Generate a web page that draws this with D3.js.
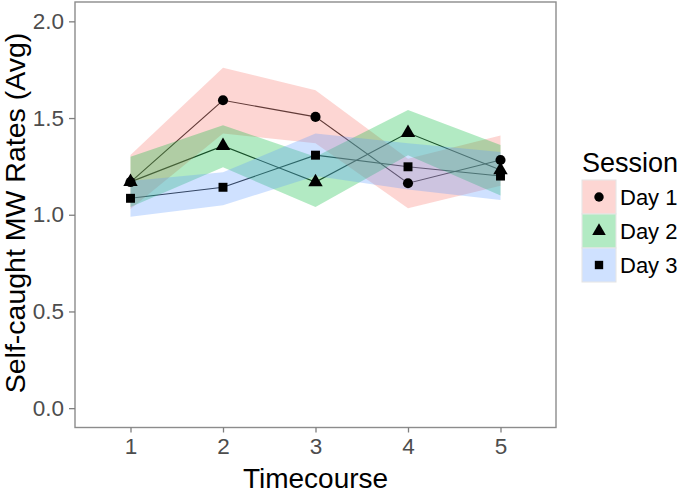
<!DOCTYPE html>
<html><head><meta charset="utf-8">
<script src="https://cdn.jsdelivr.net/npm/d3@7"></script>
<style>body{margin:0;background:#fff}</style>
</head><body>
<script>
const timepoints = [1, 2, 3, 4, 5];
const sessions = ["Day 1", "Day 2", "Day 3"];
const day1Mean  = [1.169, 1.592, 1.506, 1.163, 1.283];
const day1Lower = [1.03, 1.42, 1.37, 1.033, 1.15];
const day1Upper = [1.309, 1.76, 1.644, 1.29, 1.41];
const day2Mean  = [1.17, 1.356, 1.169, 1.424, 1.231];
const day2Lower = [1.04, 1.245, 1.04, 1.307, 1.10];
const day2Upper = [1.30, 1.463, 1.30, 1.541, 1.36];
const day3Mean  = [1.085, 1.142, 1.308, 1.248, 1.20];
const day3Lower = [0.99, 1.049, 1.20, 1.13, 1.076];
const day3Upper = [1.175, 1.22, 1.42, 1.37, 1.325];
const yTicks = [0.0, 0.5, 1.0, 1.5, 2.0];
const colors = ["#F8766D", "#00BA38", "#619CFF"];
const shapes = [d3.symbolCircle, d3.symbolTriangle, d3.symbolSquare];

const series = [
  {name: sessions[0], mean: day1Mean, lo: day1Lower, hi: day1Upper},
  {name: sessions[1], mean: day2Mean, lo: day2Lower, hi: day2Upper},
  {name: sessions[2], mean: day3Mean, lo: day3Lower, hi: day3Upper}
];

const W = 685, H = 493;
const P = {l: 75, r: 556, t: 2, b: 427.5};
const svg = d3.select("body").append("svg").attr("width", W).attr("height", H)
  .style("font-family", "'Liberation Sans', Arial, sans-serif");

const x = d3.scaleLinear().domain([0.4, 5.6]).range([P.l, P.r]);
const y = d3.scaleLinear().domain([-0.1, 2.1]).range([P.b, P.t]);

const plot = svg.append("g");

// lines (beneath ribbons)
const line = d3.line().x((d, i) => x(timepoints[i])).y(d => y(d));
series.forEach(s => {
  plot.append("path").attr("d", line(s.mean)).attr("fill", "none")
    .attr("stroke", "#222").attr("stroke-width", 1.1);
});

// ribbons
const area = d3.area().x((d, i) => x(timepoints[i]))
  .y0((d, i) => y(d.lo)).y1((d, i) => y(d.hi));
series.forEach((s, k) => {
  const pts = timepoints.map((t, i) => ({lo: s.lo[i], hi: s.hi[i]}));
  plot.append("path").attr("d", area(pts)).attr("fill", colors[k]).attr("fill-opacity", 0.3);
});

// points
series.forEach((s, k) => {
  const sizes = [80, 90, 80];
  plot.selectAll(null).data(s.mean).enter().append("path")
    .attr("transform", (d, i) => `translate(${x(timepoints[i])},${y(d)})`)
    .attr("d", d3.symbol().type(shapes[k]).size(sizes[k]))
    .attr("fill", "#000");
});

// panel border
svg.append("rect").attr("x", P.l).attr("y", P.t).attr("width", P.r - P.l).attr("height", P.b - P.t)
  .attr("fill", "none").attr("stroke", "#8c8c8c").attr("stroke-width", 1.4);

// axes
const xAxis = svg.append("g").attr("transform", `translate(0,${P.b})`)
  .call(d3.axisBottom(x).tickValues(timepoints).tickFormat(d3.format("d")).tickSize(5).tickPadding(6));
const yAxis = svg.append("g").attr("transform", `translate(${P.l},0)`)
  .call(d3.axisLeft(y).tickValues(yTicks).tickFormat(d3.format(".1f")).tickSize(6).tickPadding(5));
[xAxis, yAxis].forEach(a => {
  a.select(".domain").remove();
  a.selectAll(".tick line").attr("stroke", "#7f7f7f").attr("stroke-width", 1.3);
  a.selectAll(".tick text").attr("fill", "#4d4d4d").style("font-size", "22.5px")
    .style("font-family", "'Liberation Sans', Arial, sans-serif");
});

// titles
svg.append("text").attr("x", (P.l + P.r) / 2).attr("y", 488).attr("text-anchor", "middle")
  .style("font-size", "28px").attr("fill", "#000").text("Timecourse");
svg.append("text").attr("transform", `translate(25,213) rotate(-90)`)
  .attr("text-anchor", "middle").style("font-size", "28.5px").attr("fill", "#000")
  .text("Self-caught MW Rates (Avg)");

// legend
const lg = svg.append("g");
lg.append("text").attr("x", 582).attr("y", 171.5).style("font-size", "27px").attr("fill", "#000").text("Session");
series.forEach((s, k) => {
  const ky = 180 + k * 34;
  lg.append("rect").attr("x", 582).attr("y", ky).attr("width", 34).attr("height", 34)
    .attr("fill", "#fff").attr("stroke", "#e3e3e3").attr("stroke-width", 1);
  lg.append("rect").attr("x", 582.5).attr("y", ky + 0.5).attr("width", 33).attr("height", 33)
    .attr("fill", colors[k]).attr("fill-opacity", 0.3);
  lg.append("path").attr("transform", `translate(599,${ky + 17})`)
    .attr("d", d3.symbol().type(shapes[k]).size([70, 80, 70][k])).attr("fill", "#000");
  lg.append("text").attr("x", 620).attr("y", ky + 25).style("font-size", "22px").attr("fill", "#000").text(s.name);
});
</script>
</body></html>
